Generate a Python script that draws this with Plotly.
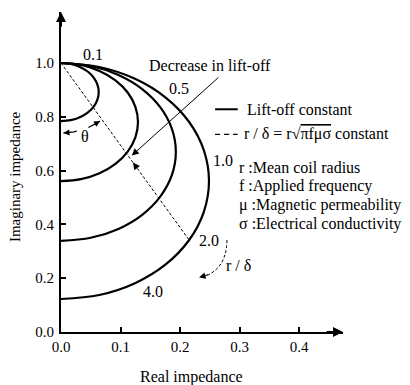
import numpy as np
import plotly.graph_objects as go

# ---------------- data ----------------
# lift-off constant curves (normalised impedance plane)
lift1_x = [0, 0.0164, 0.0317, 0.0448, 0.0549, 0.0612, 0.0634, 0.0612, 0.0549, 0.0448, 0.0317, 0.0164, 0]
lift1_y = [1.0, 0.9963, 0.9855, 0.9684, 0.946, 0.920, 0.892, 0.864, 0.838, 0.8156, 0.7985, 0.7877, 0.784]

lift2_x = [0, 0.0335, 0.0647, 0.0915, 0.1121, 0.1250, 0.1294, 0.1250, 0.1121, 0.0915, 0.0647, 0.0335, 0]
lift2_y = [1.0, 0.9925, 0.9706, 0.9357, 0.8903, 0.8373, 0.7805, 0.7237, 0.6708, 0.6253, 0.5904, 0.5685, 0.561]

lift3_x = [0, 0.0500, 0.0965, 0.1365, 0.1671, 0.1864, 0.193, 0.1864, 0.1671, 0.1365, 0.0965, 0.0500, 0]
lift3_y = [1.0, 0.9887, 0.9557, 0.9032, 0.8348, 0.7550, 0.6695, 0.5840, 0.5043, 0.4358, 0.3833, 0.3503, 0.339]

lift4_x = [0, 0.0644, 0.1244, 0.1759, 0.2154, 0.2402, 0.2487, 0.2402, 0.2154, 0.1759, 0.1244, 0.0644, 0]
lift4_y = [1.0, 0.9851, 0.9412, 0.8715, 0.7807, 0.6748, 0.5613, 0.4478, 0.3420, 0.2511, 0.1814, 0.1376, 0.1226]

# r/delta constant line
rd_x = [0.0, 0.215]
rd_y = [1.0, 0.343]

# r/delta labels along the outer curve
rd_labels = ["0.1", "0.5", "1.0", "2.0", "4.0"]
rd_label_x = [0.053, 0.198, 0.272, 0.249, 0.155]
rd_label_y = [1.03, 0.905, 0.639, 0.342, 0.152]

x_ticks = [0.0, 0.1, 0.2, 0.3, 0.4]
y_ticks = [0.0, 0.2, 0.4, 0.6, 0.8, 1.0]

legend_texts = ["Lift-off constant",
                "r / δ = r√<span style='text-decoration:overline'>πfμσ</span> constant"]
symbol_texts = ["r :Mean coil radius", "f :Applied frequency",
                "μ :Magnetic permeability", "σ :Electrical conductivity"]

# ---------------- layout geometry ----------------
W, H = 410, 385
ML, MR, MT, MB = 61, 67, 12, 53
PX_X = 595.0   # pixels per unit of real impedance
PX_Y = 269.0   # pixels per unit of imaginary impedance
xmax = (W - ML - MR) / PX_X
ymax = (H - MT - MB) / PX_Y

FONT = "Liberation Serif"
fig = go.Figure()

for cx, cy in [(lift1_x, lift1_y), (lift2_x, lift2_y), (lift3_x, lift3_y), (lift4_x, lift4_y)]:
    fig.add_trace(go.Scatter(x=cx, y=cy, mode="lines",
                             line=dict(color="black", width=2.2, shape="spline", smoothing=1.0),
                             hoverinfo="skip", showlegend=False))

fig.add_trace(go.Scatter(x=rd_x, y=rd_y, mode="lines",
                         line=dict(color="black", width=1, dash="3px,2px"),
                         hoverinfo="skip", showlegend=False))

# theta arc (pixel-space circle around (0,1))
ang = np.arctan(((rd_x[1] - rd_x[0]) * PX_X) / ((rd_y[0] - rd_y[1]) * PX_Y))
R = 70.0
for a0, a1 in [(np.radians(2), np.radians(13)), (np.radians(23), ang - np.radians(2))]:
    t = np.linspace(a0, a1, 20)
    fig.add_trace(go.Scatter(x=R * np.sin(t) / PX_X, y=1 - R * np.cos(t) / PX_Y, mode="lines",
                             line=dict(color="black", width=1.2),
                             hoverinfo="skip", showlegend=False))

# r/delta curved dashed arrow
rda_x = [0.279, 0.276, 0.266, 0.250, 0.236]
rda_y = [0.342, 0.290, 0.245, 0.215, 0.205]
fig.add_trace(go.Scatter(x=rda_x, y=rda_y, mode="lines",
                         line=dict(color="black", width=1, dash="3px,2px", shape="spline"),
                         hoverinfo="skip", showlegend=False))

ann = []


def arrow(x, y, ax, ay, w=1.2, size=1.0, head=2):
    ann.append(dict(x=x, y=y, ax=ax, ay=ay, xref="x", yref="y", axref="x", ayref="y",
                    text="", showarrow=True, arrowhead=head, arrowsize=size,
                    arrowwidth=w, arrowcolor="black"))


def label(x, y, s, size=16, xanchor="center", angle=0):
    # positions given in data units, placed in paper units so nothing is hidden
    ann.append(dict(x=x / xmax, y=y / ymax, xref="paper", yref="paper", text=s, showarrow=False,
                    xanchor=xanchor, yanchor="middle", textangle=angle, borderpad=0,
                    font=dict(family=FONT, size=size, color="black")))


# axis arrows
arrow(xmax, 0, xmax - 0.03, 0, w=2, size=1.0)
arrow(0, ymax, 0, ymax - 0.06, w=2, size=1.0)

# decrease in lift-off arrow
arrow(0.119, 0.656, 0.267, 0.951, w=1, size=1.4)
label(0.250, 0.989, "Decrease in lift-off")

# arrowhead on r/delta line
slope = (rd_y[0] - rd_y[1]) / rd_x[1]
arrow(0.121, 1 - 0.121 * slope, 0.128, 1 - 0.128 * slope, w=1, size=1.4)

# theta arc arrowheads
t_end = np.radians(2)
arrow(R * np.sin(t_end) / PX_X, 1 - R * np.cos(t_end) / PX_Y,
      R * np.sin(np.radians(8)) / PX_X, 1 - R * np.cos(np.radians(8)) / PX_Y, w=1, size=1.2)
t_end = ang - np.radians(2)
arrow(R * np.sin(t_end) / PX_X, 1 - R * np.cos(t_end) / PX_Y,
      R * np.sin(t_end - np.radians(6)) / PX_X, 1 - R * np.cos(t_end - np.radians(6)) / PX_Y,
      w=1, size=1.2)
label(0.040, 0.725, "θ")

# r/delta arrow head
arrow(rda_x[-1] - 0.004, rda_y[-1] - 0.002, rda_x[-2], rda_y[-2], w=1, size=1.3)
label(0.299, 0.249, "r / δ")

for s, x, y in zip(rd_labels, rd_label_x, rd_label_y):
    label(x, y, s)

# legend
shapes = [
    dict(type="line", xref="x", yref="y", x0=0.259, x1=0.297, y0=0.828, y1=0.828,
         line=dict(color="black", width=2)),
    dict(type="line", xref="x", yref="y", x0=0.259, x1=0.297, y0=0.735, y1=0.735,
         line=dict(color="black", width=1.2, dash="5px,4px")),
]
label(0.311, 0.828, legend_texts[0], xanchor="left")
label(0.306, 0.735, legend_texts[1], xanchor="left", size=16)
for i, s in enumerate(symbol_texts):
    label(0.298, 0.610 - i * 0.069, s, xanchor="left", size=16)

# axis titles
label(-0.078, 0.578, "Imaginary impedance", size=15, angle=-90)
label(0.220, -0.166, "Real impedance", size=16)

fig.update_layout(
    width=W, height=H, margin=dict(l=ML, r=MR, t=MT, b=MB, pad=0),
    paper_bgcolor="white", plot_bgcolor="white",
    font=dict(family=FONT, size=15, color="black"),
    annotations=ann, shapes=shapes, showlegend=False,
    xaxis=dict(range=[0, xmax], tickvals=x_ticks, tickformat=".1f",
               showline=True, linecolor="black", linewidth=2, showgrid=False,
               zeroline=False, ticks="inside", ticklen=5, tickwidth=1.5, tickcolor="black",
               tickfont=dict(family=FONT, size=15)),
    yaxis=dict(range=[0, ymax], tickvals=y_ticks, tickformat=".1f",
               showline=True, linecolor="black", linewidth=2, showgrid=False,
               zeroline=False, ticks="inside", ticklen=5, tickwidth=1.5, tickcolor="black",
               ticklabelstandoff=2,
               tickfont=dict(family=FONT, size=15)),
)

fig.write_html("out.html", config={"displayModeBar": False},
               post_script="document.body.style.margin='0px';")
